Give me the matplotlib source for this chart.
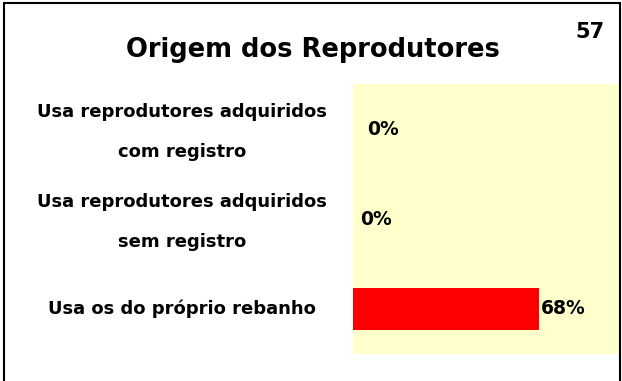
import matplotlib.pyplot as plt
from matplotlib.patches import Rectangle
from matplotlib.transforms import blended_transform_factory, offset_copy

categories = [
    'Usa reprodutores adquiridos\ncom registro',
    'Usa reprodutores adquiridos\nsem registro',
    'Usa os do próprio rebanho',
]
values = [0.0, 0.0, 0.68]
value_labels = ['0%', '0%', '68%']

plt.rcParams['font.family'] = ['DejaVu Sans']

W, H = 622, 381
fig = plt.figure(figsize=(W / 100, H / 100), dpi=100)
fig.patch.set_facecolor('white')

# plot area in pixel coords: left 353, right 620, top 84, bottom 354
ax = fig.add_axes([353 / W, 1 - 354 / H, (620 - 353) / W, (354 - 84) / H])
ax.set_facecolor('#ffffcc')
for s in ax.spines.values():
    s.set_visible(False)

ypos = list(range(len(categories)))
ax.barh(ypos, values, height=0.47, color='#ff0000')
ax.set_ylim(len(categories) - 0.5, -0.5)
ax.set_xlim(0, 0.976)
ax.set_xticks([])
ax.set_yticks([])

# value labels, nudged the way the original sheet placed them
offsets = [0.05, 0.025, 0.005]
for y, v, lab, off in zip(ypos, values, value_labels, offsets):
    ax.text(v + off, y, lab, va='center', ha='left', fontsize=13.5,
            fontweight='bold', color='black')

# category labels centred in the left band, two-line ones sit a bit lower
tr = blended_transform_factory(fig.transFigure, ax.transData)
tr_low = offset_copy(tr, fig=fig, y=-3, units='dots')
for y, cat in zip(ypos, categories):
    fig.text(182 / W, y, cat, transform=tr_low if '\n' in cat else tr,
             ha='center', va='center', fontsize=13, fontweight='bold',
             linespacing=2.55, multialignment='center')

fig.text(313 / W, 1 - 50 / H, 'Origem dos Reprodutores', ha='center',
         va='center', fontsize=18.5, fontweight='bold')
fig.text(590 / W, 1 - 32 / H, '57', ha='center', va='center',
         fontsize=15, fontweight='bold')

# page frame, open at the bottom
frame = Rectangle((3.5 / W, -0.1), (620 - 3.5) / W, 1.1 - 3.5 / H,
                  transform=fig.transFigure, fill=False, edgecolor='black',
                  linewidth=1.5)
fig.patches.append(frame)

fig.savefig('out.png', dpi=100, facecolor='white')
